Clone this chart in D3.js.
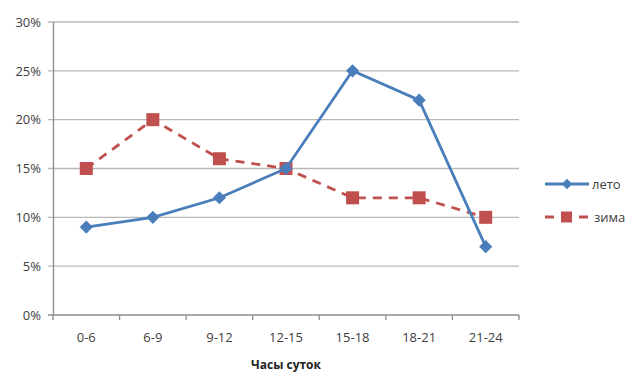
<!DOCTYPE html>
<html>
<head>
<meta charset="utf-8">
<script src="https://cdn.jsdelivr.net/npm/d3@7"></script>
<style>
  body { margin: 0; background: #fff; }
  text { font-family: "Open Sans", "Noto Sans", sans-serif; }
</style>
</head>
<body>
<div id="chart"></div>
<script>
var categories = ["0-6", "6-9", "9-12", "12-15", "15-18", "18-21", "21-24"];
var summer = [9, 10, 12, 15, 25, 22, 7];   // лето
var winter = [15, 20, 16, 15, 12, 12, 10]; // зима
var yTicks = [0, 5, 10, 15, 20, 25, 30];
var seriesNames = ["лето", "зима"];

var width = 630, height = 374;
var margin = {top: 22, right: 111, bottom: 59, left: 53};
var w = width - margin.left - margin.right;
var h = height - margin.top - margin.bottom;

var svg = d3.select("#chart").append("svg")
    .attr("width", width)
    .attr("height", height);

var g = svg.append("g")
    .attr("transform", "translate(" + margin.left + "," + margin.top + ")");

var x = d3.scaleBand().domain(categories).range([0, w]);
var y = d3.scaleLinear().domain([0, 30]).range([h, 0]);

// gridlines
g.selectAll(".grid").data(yTicks).enter().append("line")
    .attr("x1", -5).attr("x2", w)
    .attr("y1", function(d) { return y(d); })
    .attr("y2", function(d) { return y(d); })
    .attr("stroke", function(d) { return d === 0 ? "#8c8c8c" : "#b8b8b8"; })
    .attr("stroke-width", 1.3);

// Y axis
var yAxis = g.append("g")
    .call(d3.axisLeft(y).tickValues(yTicks).tickSize(0).tickPadding(12)
      .tickFormat(function(d) { return d + "%"; }));
yAxis.select(".domain").attr("stroke", "#8c8c8c").attr("stroke-width", 1.3);
yAxis.selectAll("text").attr("font-size", 13).attr("fill", "#404040");

// X axis
var xAxis = g.append("g")
    .attr("transform", "translate(0," + h + ")")
    .call(d3.axisBottom(x).tickSize(0).tickPadding(18));
xAxis.select(".domain").remove();
xAxis.selectAll("text").attr("font-size", 13).attr("fill", "#404040");
g.selectAll(".xt").data(d3.range(categories.length + 1)).enter().append("line")
    .attr("x1", function(i) { return i * x.step(); })
    .attr("x2", function(i) { return i * x.step(); })
    .attr("y1", h).attr("y2", h + 5)
    .attr("stroke", "#8c8c8c").attr("stroke-width", 1.3);

svg.append("text")
    .attr("x", margin.left + w / 2)
    .attr("y", 369)
    .attr("text-anchor", "middle")
    .attr("font-size", 12)
    .attr("font-weight", "bold")
    .attr("fill", "#222")
    .text("Часы суток");

var cx = function(d, i) { return x(categories[i]) + x.bandwidth() / 2; };
var line = d3.line().x(cx).y(function(d) { return y(d); });

var blue = "#4A7EBB", red = "#C0504D";

// winter (red dashed, squares)
g.append("path").datum(winter)
    .attr("d", line).attr("fill", "none")
    .attr("stroke", red).attr("stroke-width", 2.8)
    .attr("stroke-dasharray", "9,7");
g.selectAll(".sq").data(winter).enter().append("rect")
    .attr("x", function(d, i) { return cx(d, i) - 6.5; })
    .attr("y", function(d) { return y(d) - 6.5; })
    .attr("width", 13).attr("height", 13)
    .attr("fill", red);

// summer (blue solid, diamonds)
var diamond = d3.symbol().type(d3.symbolDiamond2).size(110);
g.append("path").datum(summer)
    .attr("d", line).attr("fill", "none")
    .attr("stroke", blue).attr("stroke-width", 2.8);
g.selectAll(".dm").data(summer).enter().append("path")
    .attr("d", diamond)
    .attr("transform", function(d, i) { return "translate(" + cx(d, i) + "," + y(d) + ")"; })
    .attr("fill", blue);

// legend
var legend = svg.append("g");
var leg = [
  {name: seriesNames[0], color: blue, y: 184},
  {name: seriesNames[1], color: red, y: 217}
];
leg.forEach(function(l, i) {
  legend.append("line")
    .attr("x1", 545).attr("x2", 589)
    .attr("y1", l.y).attr("y2", l.y)
    .attr("stroke", l.color).attr("stroke-width", 2.8)
    .attr("stroke-dasharray", i === 1 ? "9,8" : null);
  if (i === 0) {
    legend.append("path").attr("d", d3.symbol().type(d3.symbolDiamond2).size(70))
      .attr("transform", "translate(567," + l.y + ")").attr("fill", l.color);
  } else {
    legend.append("rect").attr("x", 561).attr("y", l.y - 5.5)
      .attr("width", 11).attr("height", 11).attr("fill", l.color);
  }
  legend.append("text")
    .attr("x", i === 0 ? 592 : 594).attr("y", l.y + 4.5)
    .attr("font-size", 13).attr("fill", "#404040")
    .text(l.name);
});
</script>
</body>
</html>
